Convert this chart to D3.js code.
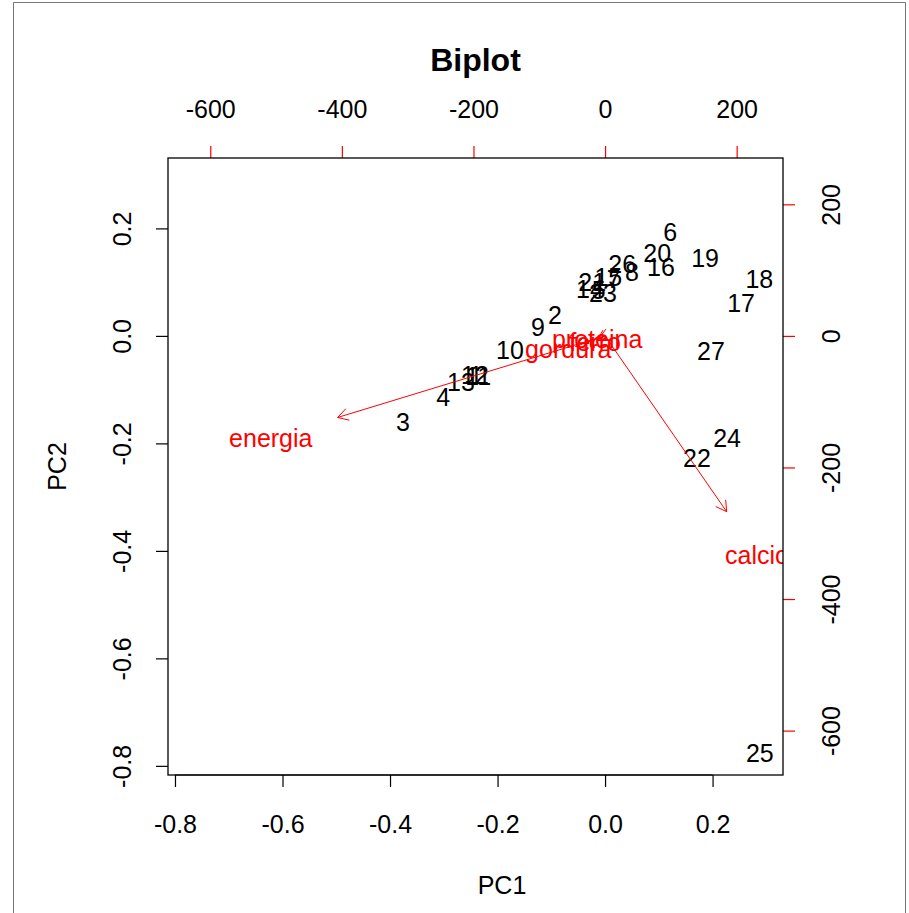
<!DOCTYPE html>
<html>
<head>
<meta charset="utf-8">
<script src="https://cdn.jsdelivr.net/npm/d3@7"></script>
<style>
  body { margin: 0; background: #fff; }
  svg text { font-family: "Liberation Sans", Arial, sans-serif; }
</style>
</head>
<body>
<div class="container"></div>
<script>
var W = 909, H = 913;

// observation scores (PC1, PC2)
var obsLabels = ["1","2","3","4","5","6","7","8","9","10","11","12","13","14","15","16","17","18","19","20","21","22","23","24","25","26","27"];
var pc1 = [-0.240, -0.093, -0.376, -0.301, -0.012, 0.121, 0.016, 0.050, -0.125, -0.177, -0.236, -0.242, -0.268, -0.028, 0.006, 0.104, 0.253, 0.287, 0.186, 0.097, -0.024, 0.171, -0.004, 0.227, 0.288, 0.032, 0.197];
var pc2 = [-0.074, 0.039, -0.160, -0.115, 0.085, 0.192, 0.105, 0.119, 0.017, -0.026, -0.076, -0.073, -0.087, 0.087, 0.110, 0.127, 0.060, 0.106, 0.145, 0.153, 0.100, -0.227, 0.080, -0.190, -0.776, 0.134, -0.028];

// variable loadings (secondary axes units)
var varNames = ["energia", "proteina", "gordura", "calcio", "ferro"];
var load1 = [-508, -12, -56, 231, -15];
var load2 = [-155, -5, -20, -334, -9];

var ticksPrimary = [-0.8, -0.6, -0.4, -0.2, 0.0, 0.2];
var ticksSecondary = [-600, -400, -200, 0, 200];
var ratio = 817;

var pL = 168, pR = 783, pT = 158, pB = 775;
var fs = 25;

var svg = d3.select('.container')
  .append('svg')
  .attr('width', W)
  .attr('height', H);

// screenshot frame
svg.append('path')
  .attr('d', 'M13.5,' + H + 'V2.5H905.5V' + H)
  .attr('fill', 'none')
  .attr('stroke', '#777')
  .attr('stroke-width', 1);

var xDom = [-0.813, 0.331], yDom = [-0.817, 0.331];
var x = d3.scaleLinear().domain(xDom).range([pL, pR]);
var y = d3.scaleLinear().domain(yDom).range([pB, pT]);
var x2 = d3.scaleLinear().domain(xDom.map(v => v * ratio)).range([pL, pR]);
var y2 = d3.scaleLinear().domain(yDom.map(v => v * ratio)).range([pB, pT]);

// R style: plain hyphen minus
var fmt = d => d3.format(".1f")(d).replace('\u2212', '-');
var fmtInt = d => d3.format("d")(d).replace('\u2212', '-');

function styleAxis(g, color) {
  g.select('.domain').remove();
  g.selectAll('.tick line').attr('stroke', color).attr('stroke-width', 1.2);
  g.selectAll('.tick text')
    .attr('fill', '#000')
    .style('font-size', fs + 'px')
    .style('font-family', '"Liberation Sans", Arial, sans-serif');
}

// bottom
var gB = svg.append('g')
  .attr('transform', 'translate(0,' + pB + ')')
  .call(d3.axisBottom(x).tickValues(ticksPrimary).tickFormat(fmt).tickSize(12).tickPadding(28));
styleAxis(gB, '#000');
gB.append('line').attr('x1', x(-0.8)).attr('x2', x(0.2)).attr('stroke', '#000');

// left
var gL = svg.append('g')
  .attr('transform', 'translate(' + pL + ',0)')
  .call(d3.axisLeft(y).tickValues(ticksPrimary).tickFormat(fmt).tickSize(12));
styleAxis(gL, '#000');
gL.selectAll('.tick text')
  .attr('x', null).attr('dy', null)
  .attr('text-anchor', 'middle')
  .attr('transform', 'translate(-46,0) rotate(-90)')
  .attr('dy', '0.35em');

// top
var gT = svg.append('g')
  .attr('transform', 'translate(0,' + pT + ')')
  .call(d3.axisTop(x2).tickValues(ticksSecondary).tickFormat(fmtInt).tickSize(12).tickPadding(28));
styleAxis(gT, '#ff0000');

// right
var gR = svg.append('g')
  .attr('transform', 'translate(' + pR + ',0)')
  .call(d3.axisRight(y2).tickValues(ticksSecondary).tickFormat(fmtInt).tickSize(12));
styleAxis(gR, '#ff0000');
gR.selectAll('.tick text')
  .attr('x', null).attr('dy', null)
  .attr('text-anchor', 'middle')
  .attr('transform', 'translate(48,0) rotate(-90)')
  .attr('dy', '0.35em');

// clip to plot region
svg.append('clipPath').attr('id', 'plotclip')
  .append('rect')
  .attr('x', pL).attr('y', pT)
  .attr('width', pR - pL).attr('height', pB - pT);

var plot = svg.append('g').attr('clip-path', 'url(#plotclip)');

// observation labels
plot.selectAll('text.obs')
  .data(obsLabels)
  .enter()
  .append('text')
  .attr('class', 'obs')
  .attr('x', (d, i) => x(pc1[i]))
  .attr('y', (d, i) => y(pc2[i]))
  .attr('dy', '0.35em')
  .attr('text-anchor', 'middle')
  .style('font-size', fs + 'px')
  .attr('fill', '#000')
  .text(d => d);

// variable labels
plot.selectAll('text.var')
  .data(varNames)
  .enter()
  .append('text')
  .attr('class', 'var')
  .attr('x', (d, i) => x2(load1[i]))
  .attr('y', (d, i) => y2(load2[i]))
  .attr('dy', '0.35em')
  .attr('text-anchor', 'middle')
  .style('font-size', fs + 'px')
  .attr('fill', '#ff0000')
  .text(d => d);

// arrows at 0.8 of loadings
var headLen = 12, headAng = Math.PI / 6;
varNames.forEach(function(v, i) {
  var x0 = x2(0), y0 = y2(0);
  var x1 = x2(load1[i] * 0.8), y1 = y2(load2[i] * 0.8);
  var a = Math.atan2(y1 - y0, x1 - x0);
  var p = 'M' + x0 + ',' + y0 + 'L' + x1 + ',' + y1 +
    'M' + (x1 - headLen * Math.cos(a - headAng)) + ',' + (y1 - headLen * Math.sin(a - headAng)) +
    'L' + x1 + ',' + y1 +
    'L' + (x1 - headLen * Math.cos(a + headAng)) + ',' + (y1 - headLen * Math.sin(a + headAng));
  plot.append('path')
    .attr('d', p)
    .attr('fill', 'none')
    .attr('stroke', '#ff0000')
    .attr('stroke-width', 1);
});

// box
svg.append('rect')
  .attr('x', pL).attr('y', pT)
  .attr('width', pR - pL).attr('height', pB - pT)
  .attr('fill', 'none')
  .attr('stroke', '#000')
  .attr('stroke-width', 1.3);

// titles
svg.append('text')
  .attr('x', (pL + pR) / 2)
  .attr('y', 60)
  .attr('dy', '0.35em')
  .attr('text-anchor', 'middle')
  .style('font-size', '32px')
  .style('font-weight', 'bold')
  .text('Biplot');

svg.append('text')
  .attr('x', 502)
  .attr('y', 885)
  .attr('dy', '0.35em')
  .attr('text-anchor', 'middle')
  .style('font-size', fs + 'px')
  .text('PC1');

svg.append('text')
  .attr('transform', 'translate(57,' + ((pT + pB) / 2) + ') rotate(-90)')
  .attr('dy', '0.35em')
  .attr('text-anchor', 'middle')
  .style('font-size', fs + 'px')
  .text('PC2');
</script>
</body>
</html>
